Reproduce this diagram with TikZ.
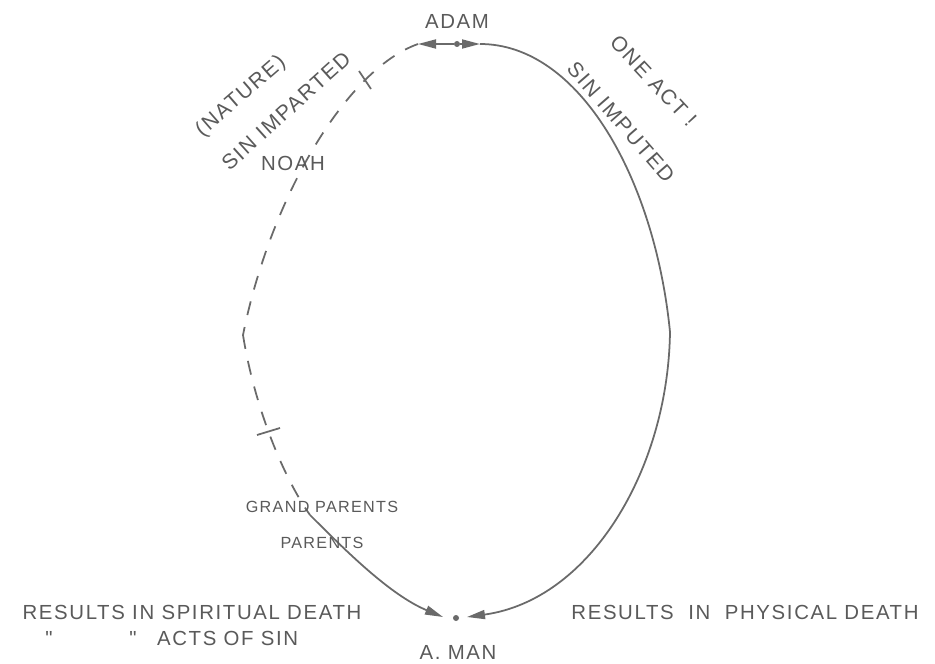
\documentclass[tikz,border=0pt]{standalone}
\usepackage{fontspec}
\setmainfont{Liberation Sans}[LetterSpace=8]
\usetikzlibrary{arrows.meta}
\definecolor{ink}{HTML}{5A5A5A}
\definecolor{pen}{HTML}{6A6A6A}
\begin{document}
\begin{tikzpicture}[x=1cm,y=1cm,
  lbl/.style={text=ink,inner sep=1pt,font=\fontsize{11.6}{13}\selectfont},
  biglbl/.style={lbl,font=\fontsize{12}{14}\selectfont},
  smalllbl/.style={lbl,font=\fontsize{9.2}{11}\selectfont},
  dotn/.style={circle,fill=pen,inner sep=0pt,minimum size=0.12cm},
  pline/.style={draw=pen,line width=1pt},
  dline/.style={pline,dash pattern=on 8pt off 7pt},
  tip/.style={-{Triangle[length=0.36cm,width=0.18cm]}}]
\useasboundingbox[fill=white] (0,0) rectangle (18.7,-13.28);

% Adam at the top
\node[dotn] (adam) at (9.14,-0.88) {};
\node[lbl] (adamtxt) at (9.14,-0.42) {ADAM};
\coordinate (adamL) at (8.36,-0.88);
\coordinate (adamR) at (9.60,-0.88);

% A. Man at the bottom
\node[dotn] (man) at (9.12,-12.36) {};
\node[lbl,anchor=base] (mantxt) at (9.16,-13.18) {A. MAN};
\coordinate (manL) at (8.86,-12.34);
\coordinate (manR) at (9.34,-12.34);

% turning points and crossings
\coordinate (kinkR) at (13.40,-6.64);
\coordinate (kinkL) at (4.86,-6.70);
\coordinate (dashend) at (6.20,-10.30);

% right side: sin imputed
\draw[pline,tip] (adam) -- (adamR);
\draw[pline] (adamR) .. controls (11.6,-0.88) and (13.1,-3.6) .. (kinkR);
\draw[pline,tip] (kinkR) .. controls (13.36,-9.4) and (11.8,-12.0) .. (manR);

% left side: sin imparted
\draw[pline,tip] (adam) -- (adamL);
\draw[dline] (adamL) .. controls (6.9,-1.4) and (5.4,-4.0) .. (kinkL);
\draw[dline] (kinkL) .. controls (5.1,-8.2) and (5.7,-9.6) .. (dashend);
\draw[pline,tip] (dashend) .. controls (6.9,-11.0) and (7.8,-11.9) .. (manL);

% cross marks on the dashed line
\draw[pline] (7.18,-1.42) -- (7.42,-1.78);
\draw[pline] (5.14,-8.70) -- (5.60,-8.56);

\node[lbl] (noah) at (5.86,-3.26) {NOAH};
\node[biglbl,rotate=41] (nature) at (4.82,-1.93) {(NATURE)};
\node[biglbl,rotate=42] (imparted) at (5.72,-2.22) {SIN IMPARTED};
\node[biglbl,rotate=-47] (oneact) at (13.07,-1.62) {ONE ACT !};
\node[biglbl,rotate=-49] (imputed) at (12.42,-2.44) {SIN IMPUTED};

\node[smalllbl] (grand) at (6.44,-10.14) {GRAND PARENTS};
\node[smalllbl] (parents) at (6.44,-10.86) {PARENTS};

\node[lbl] (spirit) at (3.84,-12.24) {RESULTS IN SPIRITUAL DEATH};
\node[lbl] (dittoA) at (0.98,-12.76) {\textquotedbl};
\node[lbl] (dittoB) at (2.66,-12.76) {\textquotedbl};
\node[lbl,anchor=west] (acts) at (3.10,-12.76) {ACTS OF SIN};
\node[lbl] (physical) at (14.90,-12.24) {RESULTS\ \ IN\ \ PHYSICAL DEATH};
\end{tikzpicture}
\end{document}
